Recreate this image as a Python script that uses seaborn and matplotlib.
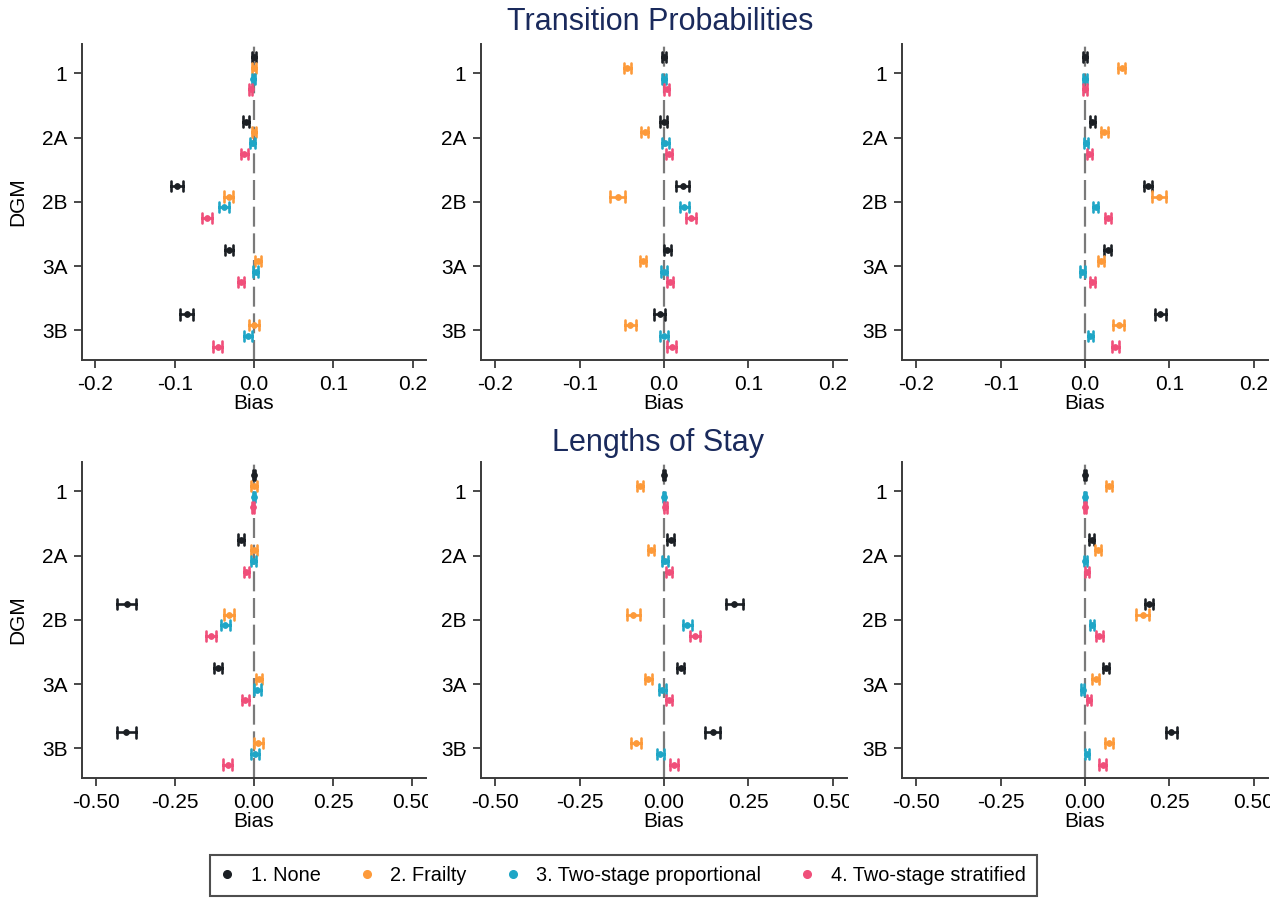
import numpy as np
import pandas as pd
import matplotlib
matplotlib.use("Agg")
import matplotlib.pyplot as plt
import seaborn as sns
from matplotlib.lines import Line2D
from matplotlib.transforms import Bbox, TransformedBbox

# ---------------- data ----------------
DGM = ["1", "2A", "2B", "3A", "3B"]
METHODS = ["1. None", "2. Frailty", "3. Two-stage proportional", "4. Two-stage stratified"]
COLORS = ["#1b1f24", "#fd9a3a", "#1fa6c6", "#f04f7a"]

TP_TICKS = [-0.2, -0.1, 0.0, 0.1, 0.2]
TP_TICKLABELS = ["-0.2", "-0.1", "0.0", "0.1", "0.2"]
LOS_TICKS = [-0.5, -0.25, 0.0, 0.25, 0.5]
LOS_TICKLABELS = ["-0.50", "-0.25", "0.00", "0.25", "0.50"]

# rows = methods, columns = DGM ; estimates and CI half-widths
TP1_EST = [[0.000, -0.010, -0.097, -0.032, -0.085],
           [0.000, 0.000, -0.032, 0.005, 0.000],
           [-0.001, -0.002, -0.038, 0.002, -0.007],
           [-0.004, -0.012, -0.059, -0.016, -0.046]]
TP1_HW = [[0.002, 0.004, 0.008, 0.005, 0.008],
          [0.003, 0.003, 0.006, 0.004, 0.006],
          [0.002, 0.003, 0.006, 0.0035, 0.005],
          [0.002, 0.004, 0.006, 0.004, 0.006]]
TP2_EST = [[0.000, -0.0005, 0.022, 0.004, -0.005],
           [-0.0435, -0.0227, -0.055, -0.025, -0.040],
           [0.000, 0.0016, 0.024, 0.000, 0.000],
           [0.003, 0.006, 0.032, 0.007, 0.009]]
TP2_HW = [[0.002, 0.004, 0.0075, 0.004, 0.0067],
          [0.004, 0.004, 0.0087, 0.004, 0.0067],
          [0.002, 0.004, 0.0055, 0.004, 0.005],
          [0.003, 0.004, 0.0055, 0.004, 0.0053]]
TP3_EST = [[0.000, 0.0087, 0.0745, 0.027, 0.0895],
           [0.0434, 0.023, 0.0876, 0.019, 0.040],
           [0.000, 0.001, 0.0126, -0.003, 0.006],
           [0.000, 0.005, 0.027, 0.0087, 0.036]]
TP3_HW = [[0.002, 0.003, 0.005, 0.004, 0.006],
          [0.004, 0.0037, 0.0087, 0.004, 0.0067],
          [0.002, 0.002, 0.003, 0.003, 0.003],
          [0.002, 0.003, 0.0037, 0.003, 0.0043]]
LOS1_EST = [[0.000, -0.040, -0.402, -0.113, -0.403],
            [0.000, 0.000, -0.080, 0.015, 0.014],
            [0.000, -0.003, -0.090, 0.011, 0.004],
            [-0.002, -0.024, -0.136, -0.027, -0.083]]
LOS1_HW = [[0.003, 0.010, 0.029, 0.013, 0.029],
           [0.0095, 0.008, 0.016, 0.010, 0.015],
           [0.003, 0.008, 0.015, 0.010, 0.013],
           [0.003, 0.008, 0.016, 0.010, 0.015]]
LOS2_EST = [[0.000, 0.020, 0.209, 0.049, 0.145],
            [-0.072, -0.039, -0.091, -0.047, -0.083],
            [0.000, 0.003, 0.069, -0.005, -0.011],
            [0.004, 0.015, 0.092, 0.015, 0.030]]
LOS2_HW = [[0.003, 0.010, 0.0255, 0.011, 0.0225],
           [0.009, 0.009, 0.020, 0.010, 0.014],
           [0.003, 0.009, 0.013, 0.010, 0.010],
           [0.004, 0.009, 0.014, 0.009, 0.012]]
LOS3_EST = [[0.000, 0.020, 0.190, 0.062, 0.256],
            [0.070, 0.039, 0.171, 0.032, 0.071],
            [0.000, 0.001, 0.022, -0.007, 0.006],
            [0.000, 0.006, 0.042, 0.011, 0.052]]
LOS3_HW = [[0.003, 0.008, 0.011, 0.009, 0.016],
           [0.009, 0.009, 0.019, 0.010, 0.013],
           [0.003, 0.004, 0.006, 0.005, 0.006],
           [0.003, 0.005, 0.010, 0.006, 0.0095]]

TITLE_TOP = "Transition Probabilities"
TITLE_BOTTOM = "Lengths of Stay"


def long_frame(est, hw):
    rows = []
    for i, m in enumerate(METHODS):
        for j, d in enumerate(DGM):
            e, h = est[i][j], hw[i][j]
            for v in (e - h, e, e + h):
                rows.append({"method": m, "DGM": d, "bias": v})
    return pd.DataFrame(rows)


# ---------------- style ----------------
sns.set_theme(style="ticks")
plt.rcParams["font.family"] = ["Liberation Sans", "DejaVu Sans"]
plt.rcParams["axes.unicode_minus"] = False
plt.rcParams["text.color"] = "black"

W, H = 1285, 898
fig = plt.figure(figsize=(W / 100, H / 100), dpi=100)

col_px = [(82, 426), (481, 847), (902, 1268)]
row_px = [(44, 360), (462, 778)]
panels = [
    [(TP1_EST, TP1_HW), (TP2_EST, TP2_HW), (TP3_EST, TP3_HW)],
    [(LOS1_EST, LOS1_HW), (LOS2_EST, LOS2_HW), (LOS3_EST, LOS3_HW)],
]
SPINE = "#3a3a3a"

for r, (top, bot) in enumerate(row_px):
    for c, (left, right) in enumerate(col_px):
        ax = fig.add_axes([left / W, 1 - bot / H, (right - left) / W, (bot - top) / H])
        est, hw = panels[r][c]
        df = long_frame(est, hw)
        ax.axvline(0, color="#7a7a7a", lw=1.6, ls=(0, (9, 3)), zorder=0)
        sns.pointplot(
            data=df, x="bias", y="DGM", hue="method",
            order=DGM, hue_order=METHODS, palette=COLORS,
            estimator="median", errorbar=lambda v: (v.min(), v.max()),
            dodge=0.5, linestyle="none", markers="o", capsize=0.16,
            markersize=4.2, markeredgewidth=0.6,
            err_kws={"linewidth": 1.9}, legend=False, orient="h", ax=ax,
        )
        if r == 0:
            lim = 0.217
            ax.set_xticks(TP_TICKS)
            ax.set_xticklabels(TP_TICKLABELS)
        else:
            lim = 0.543
            ax.set_xticks(LOS_TICKS)
            ax.set_xticklabels(LOS_TICKLABELS)
        ax.set_xlim(-lim, lim)
        ax.set_ylim(4.46, -0.456)
        ax.set_xlabel("Bias", fontsize=15, color="black")
        ax.xaxis.set_label_coords(0.5, -0.108)
        if c == 0:
            ax.set_ylabel("DGM", fontsize=15, color="black")
            ax.yaxis.set_label_coords(-0.16, 0.5)
        else:
            ax.set_ylabel("")
        sns.despine(ax=ax)
        for s in ("left", "bottom"):
            ax.spines[s].set_color(SPINE)
            ax.spines[s].set_linewidth(1.4)
        ax.tick_params(axis="both", length=6, width=1.3, color=SPINE,
                       labelsize=15, labelcolor="black", pad=4.5)
        # clip tick labels at the panel's right edge (as in the combined graph)
        clip = TransformedBbox(Bbox([[0, 0], [(right + 2) / W, 1]]), fig.transFigure)
        for lab in ax.get_xticklabels():
            lab.set_clip_box(clip)
            lab.set_clip_on(True)

fig.text(660 / W, 1 - 22 / H, TITLE_TOP, ha="center", va="center",
         fontsize=22, color="#1a2a5c")
fig.text(658 / W, 1 - 443 / H, TITLE_BOTTOM, ha="center", va="center",
         fontsize=22, color="#1a2a5c")

handles = [Line2D([], [], marker="o", ls="none", color=c, markersize=5.5) for c in COLORS]
leg = fig.legend(handles, METHODS, loc="upper center",
                 bbox_to_anchor=(623.5 / W, 1 - 855 / H), ncol=4,
                 frameon=True, fancybox=False, fontsize=14.3,
                 handlelength=0.6, handletextpad=0.9, columnspacing=2.0,
                 borderpad=0.55, borderaxespad=0.0, labelcolor="black")
leg.get_frame().set_edgecolor("#222222")
leg.get_frame().set_linewidth(1.5)

fig.savefig("out.png", dpi=100)
